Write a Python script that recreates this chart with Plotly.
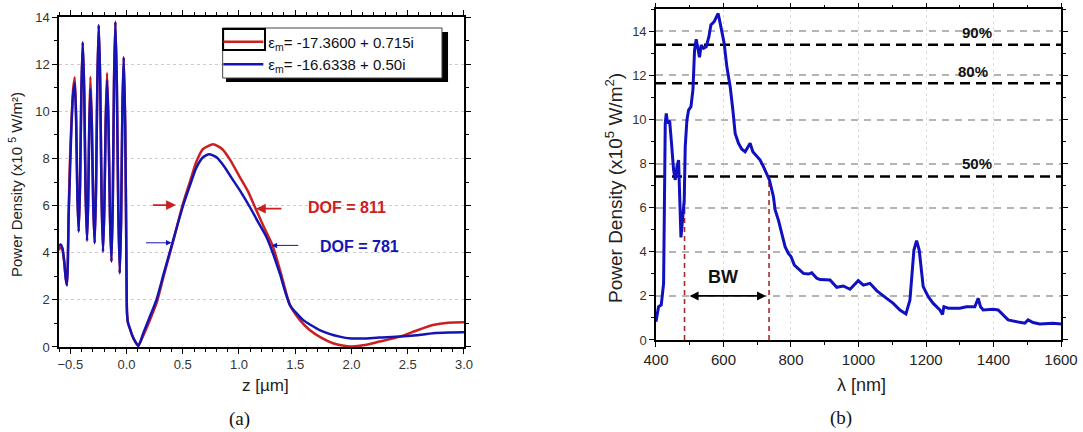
import plotly.graph_objects as go

# ---------------- Panel (a) data ----------------
z_red = [-0.600, -0.585, -0.570, -0.555, -0.540, -0.530, -0.522, -0.515, -0.505, -0.490, -0.475,
         -0.460, -0.448, -0.437, -0.425, -0.413, -0.401, -0.389, -0.376, -0.364, -0.351, -0.341,
         -0.331, -0.321, -0.308, -0.296, -0.283, -0.271, -0.259, -0.247, -0.234, -0.222, -0.209,
         -0.197, -0.185, -0.173, -0.160, -0.147, -0.134, -0.122, -0.111, -0.099, -0.086, -0.073,
         -0.060, -0.048, -0.037, -0.025, -0.012, -0.004, 0.000, 0.004, 0.012, 0.030, 0.050, 0.075,
         0.105, 0.150, 0.200, 0.270, 0.330, 0.410, 0.500, 0.560, 0.620, 0.680, 0.770, 0.850, 0.920,
         1.006, 1.080, 1.148, 1.220, 1.302, 1.380, 1.453, 1.540, 1.628, 1.730, 1.836, 1.920, 2.000,
         2.120, 2.250, 2.430, 2.580, 2.724, 2.860, 3.000]
pd_red = [4.10, 4.30, 4.15, 3.65, 2.90, 2.62, 3.50, 5.50, 7.60, 9.50, 10.90,
          11.44, 9.75, 6.50, 4.89, 6.90, 10.92, 12.93, 10.83, 6.61, 4.51, 6.25,
          9.60, 11.47, 9.50, 6.10, 4.40, 6.72, 11.35, 13.66, 11.25, 6.44, 4.04,
          5.95, 9.70, 11.64, 9.55, 5.60, 3.62, 6.17, 11.26, 13.80, 11.13, 5.80,
          3.13, 5.42, 10.00, 12.29, 9.50, 5.50, 3.00, 1.50, 1.05, 0.78, 0.50, 0.25,
          0.05, 0.50, 1.05, 1.90, 3.00, 4.40, 6.05, 6.95, 7.85, 8.40, 8.60, 8.40, 7.95,
          7.22, 6.60, 5.87, 5.10, 4.26, 3.00, 1.78, 1.15, 0.72, 0.40, 0.16, 0.06, 0.02,
          0.08, 0.23, 0.44, 0.70, 0.93, 1.03, 1.05]

z_blue = [-0.600, -0.585, -0.570, -0.555, -0.540, -0.530, -0.522, -0.515, -0.505, -0.490, -0.475,
          -0.460, -0.448, -0.437, -0.425, -0.413, -0.401, -0.389, -0.376, -0.364, -0.351, -0.341,
          -0.331, -0.321, -0.308, -0.296, -0.283, -0.271, -0.259, -0.247, -0.234, -0.222, -0.209,
          -0.197, -0.185, -0.173, -0.160, -0.147, -0.134, -0.122, -0.111, -0.099, -0.086, -0.073,
          -0.060, -0.048, -0.037, -0.025, -0.012, -0.004, 0.000, 0.004, 0.012, 0.030, 0.050, 0.075,
          0.105, 0.150, 0.200, 0.266, 0.330, 0.410, 0.500, 0.560, 0.620, 0.680, 0.735, 0.800, 0.870,
          0.947, 1.020, 1.095, 1.170, 1.243, 1.300, 1.362, 1.453, 1.569, 1.717, 1.895, 2.000,
          2.100, 2.250, 2.430, 2.580, 2.724, 2.860, 3.000]
pd_blue = [4.30, 4.35, 4.20, 3.70, 2.90, 2.62, 3.50, 5.50, 7.00, 9.30, 10.70,
           11.20, 9.62, 6.47, 4.89, 6.90, 10.92, 12.93, 10.83, 6.61, 4.51, 6.12,
           9.34, 10.95, 9.31, 6.04, 4.40, 6.72, 11.35, 13.66, 11.25, 6.44, 4.04,
           5.86, 9.51, 11.33, 9.40, 5.55, 3.62, 6.17, 11.26, 13.80, 11.13, 5.80,
           3.13, 5.42, 10.00, 12.29, 9.50, 5.50, 3.00, 1.50, 1.05, 0.78, 0.50, 0.25,
           0.05, 0.60, 1.20, 2.00, 3.10, 4.45, 5.95, 6.80, 7.60, 8.05, 8.18, 8.05, 7.65,
           7.08, 6.55, 5.95, 5.30, 4.68, 4.00, 3.13, 1.78, 1.15, 0.72, 0.44, 0.36,
           0.36, 0.40, 0.44, 0.50, 0.58, 0.61, 0.62]

label_red = "ε<sub>m</sub>= -17.3600 + 0.715i"
label_blue = "ε<sub>m</sub>= -16.6338 + 0.50i"

# ---------------- Panel (b) data ----------------
wl = [400, 407.7, 415.7, 422.6, 427.5, 430.5, 434.4, 440.4, 445.3, 452.2, 457.1, 462, 467, 471.9,
      474, 476.9, 483.7, 486.7, 491.7, 496.6, 503.6, 509.5, 514.3, 519.2, 524.2, 529, 534, 540.9,
      548.8, 556.8, 562.7, 568.6, 572.5, 578.4, 584.3, 588.3, 595.3, 602, 610, 619.8, 627.8, 634.6,
      644.5, 654.4, 664.2, 671, 679, 687, 698.8, 708.6, 718.4, 728.4, 736.1, 748, 753, 762.8,
      772.8, 782.5, 792.3, 800.3, 810, 820, 836.7, 851.5, 861.5, 876.3, 886, 915.7, 935.5, 955,
      974.9, 999.4, 1014.2, 1034, 1053.8, 1083.4, 1103, 1122.8, 1140.5, 1152.4, 1164.2, 1172.1,
      1179.9, 1191.7, 1206.6, 1221.4, 1241.1, 1249, 1253, 1265.8, 1300.3, 1320, 1344.7, 1354.6,
      1361.5, 1369.4, 1399, 1413.8, 1428.4, 1443.2, 1477.8, 1492.6, 1502.4, 1517.2, 1537, 1576.4,
      1600]
pdens = [0.83, 1.51, 1.59, 2.57, 9.83, 10.28, 9.83, 9.95, 9.07, 7.71, 7.26, 7.86, 8.16, 4.90,
         4.65, 5.14, 6.35, 8.77, 9.98, 10.43, 10.58, 11.34, 13.15, 13.64, 13.15, 12.82, 13.38, 13.23,
         13.30, 13.76, 14.29, 14.36, 14.44, 14.63, 14.81, 14.51, 13.98, 13.46, 12.39, 11.49, 10.43, 9.37,
         8.92, 8.65, 8.54, 8.74, 8.92, 8.54, 8.34, 8.16, 7.86, 7.56, 7.26, 6.50, 5.90, 5.44,
         4.84, 4.23, 3.93, 3.78, 3.40, 3.25, 3.02, 2.99, 3.05, 2.80, 2.74, 2.72, 2.39, 2.45,
         2.30, 2.69, 2.49, 2.57, 2.24, 1.89, 1.66, 1.36, 1.18, 1.81, 4.08, 4.50,
         4.08, 2.42, 1.96, 1.66, 1.36, 1.16, 1.51, 1.44, 1.44, 1.51, 1.51, 1.89,
         1.51, 1.36, 1.39, 1.36, 1.13, 0.91, 0.80, 0.76, 0.91, 0.79, 0.73, 0.76,
         0.73]

levels = [13.39, 11.64, 7.41]
level_labels = ["90%", "80%", "50%"]
level_label_x = [1350, 1338, 1350]
level_label_y = [13.95, 12.2, 8.0]
bw_edges = [484.6, 735.0]
bw_arrow = [495, 726]

FONT = "Liberation Sans, Arial, sans-serif"
RED = "#cc2020"
BLUE = "#1414b4"
BLUE2 = "#1010c0"

fig = go.Figure()
fig.add_trace(go.Scatter(x=z_red, y=pd_red, mode="lines", name=label_red,
                         line=dict(color=RED, width=2.5, shape="spline", smoothing=0.6),
                         xaxis="x", yaxis="y"))
fig.add_trace(go.Scatter(x=z_blue, y=pd_blue, mode="lines", name=label_blue,
                         line=dict(color=BLUE, width=2.5, shape="spline", smoothing=0.6),
                         xaxis="x", yaxis="y"))

# panel (b) reference levels
for lv in levels:
    fig.add_trace(go.Scatter(x=[400, 1600], y=[lv, lv], mode="lines", showlegend=False,
                             line=dict(color="black", width=2.5, dash="10px,6px"),
                             xaxis="x2", yaxis="y2", hoverinfo="skip"))
for e in bw_edges:
    fig.add_trace(go.Scatter(x=[e, e], y=[0, levels[2]], mode="lines", showlegend=False,
                             line=dict(color="#a52a2a", width=1.6, dash="5px,4px"),
                             xaxis="x2", yaxis="y2", hoverinfo="skip"))
fig.add_trace(go.Scatter(x=wl, y=pdens, mode="lines", showlegend=False,
                         line=dict(color=BLUE2, width=3), xaxis="x2", yaxis="y2"))

axis_common = dict(showline=True, linecolor="black", linewidth=1.5, mirror="ticks",
                   ticks="outside", tickcolor="black", ticklen=5, tickwidth=1.2,
                   zeroline=False, automargin=False)

fig.update_layout(
    width=1083, height=432,
    margin=dict(l=0, r=0, t=0, b=0, pad=0, autoexpand=False),
    paper_bgcolor="white", plot_bgcolor="white",
    font=dict(family=FONT, color="#222"),
    xaxis=dict(domain=[0.0545, 0.4284], range=[-0.6, 3.0], anchor="y", tick0=0, dtick=0.5,
               tickformat=".1f", showgrid=False, tickfont=dict(size=13, color="#333"),
               minor=dict(dtick=0.1, ticklen=3, ticks="outside", tickcolor="black"),
               **axis_common),
    xaxis3=dict(overlaying="x", anchor="y", range=[-0.6, 3.0], tick0=0, dtick=1,
                showgrid=True, gridcolor="#cccccc", griddash="dot", gridwidth=1,
                showticklabels=False, ticks="", showline=False, zeroline=False),
    yaxis=dict(domain=[0.1968, 0.9606], range=[0, 14], anchor="x", dtick=2,
               showgrid=True, gridcolor="#cccccc", griddash="dot", gridwidth=1,
               tickfont=dict(size=13, color="#333"),
               minor=dict(dtick=1, ticklen=3, ticks="outside", tickcolor="black"),
               **axis_common),
    xaxis2=dict(domain=[0.6057, 0.9797], range=[400, 1600], anchor="y2", dtick=200,
                showgrid=True, gridcolor="#dddddd", griddash="dot", gridwidth=1,
                tickfont=dict(size=15, color="#222"),
                minor=dict(dtick=100, ticklen=3, ticks="outside", tickcolor="black"),
                **axis_common),
    yaxis2=dict(domain=[0.2130, 0.9785], range=[0, 15], anchor="x2", dtick=2,
                showgrid=True, gridcolor="#b4b4b4", griddash="7px,6px", gridwidth=1.5,
                tickfont=dict(size=13, color="#333"),
                minor=dict(dtick=1, ticklen=3, ticks="outside", tickcolor="black"),
                **axis_common),
    legend=dict(x=0.2016, y=0.941, xanchor="left", yanchor="top",
                bgcolor="rgba(0,0,0,0)", borderwidth=0, itemwidth=40,
                font=dict(size=15, family=FONT, color="#111"), tracegroupgap=0),
    showlegend=True,
)

# legend frame with shadow
fig.add_shape(type="rect", xref="paper", yref="paper", x0=0.2087, x1=0.4137, y0=0.8102, y1=0.9259,
              fillcolor="black", line=dict(width=0), layer="above")
fig.add_shape(type="rect", xref="paper", yref="paper", x0=0.2056, x1=0.4081, y0=0.8194, y1=0.9352,
              fillcolor="white", line=dict(color="#444", width=1), layer="above")
fig.add_shape(type="rect", xref="paper", yref="paper", x0=0.2060, x1=0.2447, y0=0.8843, y1=0.9329,
              fillcolor="rgba(0,0,0,0)", line=dict(color="black", width=2), layer="above")

ann = []
C = dict(xref="paper", yref="paper", showarrow=False, xanchor="center", yanchor="middle")
# axis titles
ann.append(dict(text="Power Density (x10 <sup>5</sup> W/m²)", x=16 / 1083, y=(432 - 185) / 432,
                textangle=-90, font=dict(size=15, color="#222"), **C))
ann.append(dict(text="z [µm]", x=265 / 1083, y=(432 - 385) / 432,
                font=dict(size=17, color="#222"), **C))
ann.append(dict(text="Power Density (x10<sup>5</sup> W/m<sup>2</sup>)", x=614 / 1083,
                y=(432 - 188) / 432, textangle=-90, font=dict(size=19, color="#222"), **C))
ann.append(dict(text="λ [nm]", x=861 / 1083, y=(432 - 385) / 432,
                font=dict(size=18, color="#222"), **C))
SERIF = "Liberation Serif, Times New Roman, serif"
ann.append(dict(text="(a)", x=239 / 1083, y=(432 - 419) / 432,
                font=dict(size=19, family=SERIF, color="#111"), **C))
ann.append(dict(text="(b)", x=841 / 1083, y=(432 - 418) / 432,
                font=dict(size=19, family=SERIF, color="#111"), **C))
# DOF labels and arrows
ann.append(dict(text="<b>DOF = 811</b>", x=1.96, y=5.93, xref="x", yref="y", showarrow=False,
                font=dict(size=16, color=RED)))
ann.append(dict(text="<b>DOF = 781</b>", x=2.07, y=4.28, xref="x", yref="y", showarrow=False,
                font=dict(size=16, color=BLUE)))
for (x0, x1, yv, col, w) in [(0.22, 0.44, 6.02, RED, 1.8), (1.39, 1.15, 5.87, RED, 1.8),
                             (0.16, 0.40, 4.42, BLUE, 1.0), (1.54, 1.29, 4.31, BLUE, 1.0)]:
    ann.append(dict(x=x1, y=yv, ax=x0, ay=yv, xref="x", yref="y", axref="x", ayref="y",
                    text="", showarrow=True, arrowhead=2, arrowsize=1.1, arrowwidth=w,
                    arrowcolor=col))
# percent labels
for t, xv, yv in zip(level_labels, level_label_x, level_label_y):
    ann.append(dict(text="<b>" + t + "</b>", x=xv, y=yv, xref="x2", yref="y2", showarrow=False,
                    font=dict(size=15, color="#111")))
# BW
ann.append(dict(text="<b>BW</b>", x=600, y=2.85, xref="x2", yref="y2", showarrow=False,
                font=dict(size=18, color="#111")))
ann.append(dict(x=bw_arrow[1], y=2, ax=bw_arrow[0], ay=2, xref="x2", yref="y2", axref="x2",
                ayref="y2", text="", showarrow=True, arrowhead=2, startarrowhead=2,
                arrowside="end+start", arrowsize=1, arrowwidth=1.8, arrowcolor="black"))
fig.update_layout(annotations=ann)

fig.write_html("out.html")
